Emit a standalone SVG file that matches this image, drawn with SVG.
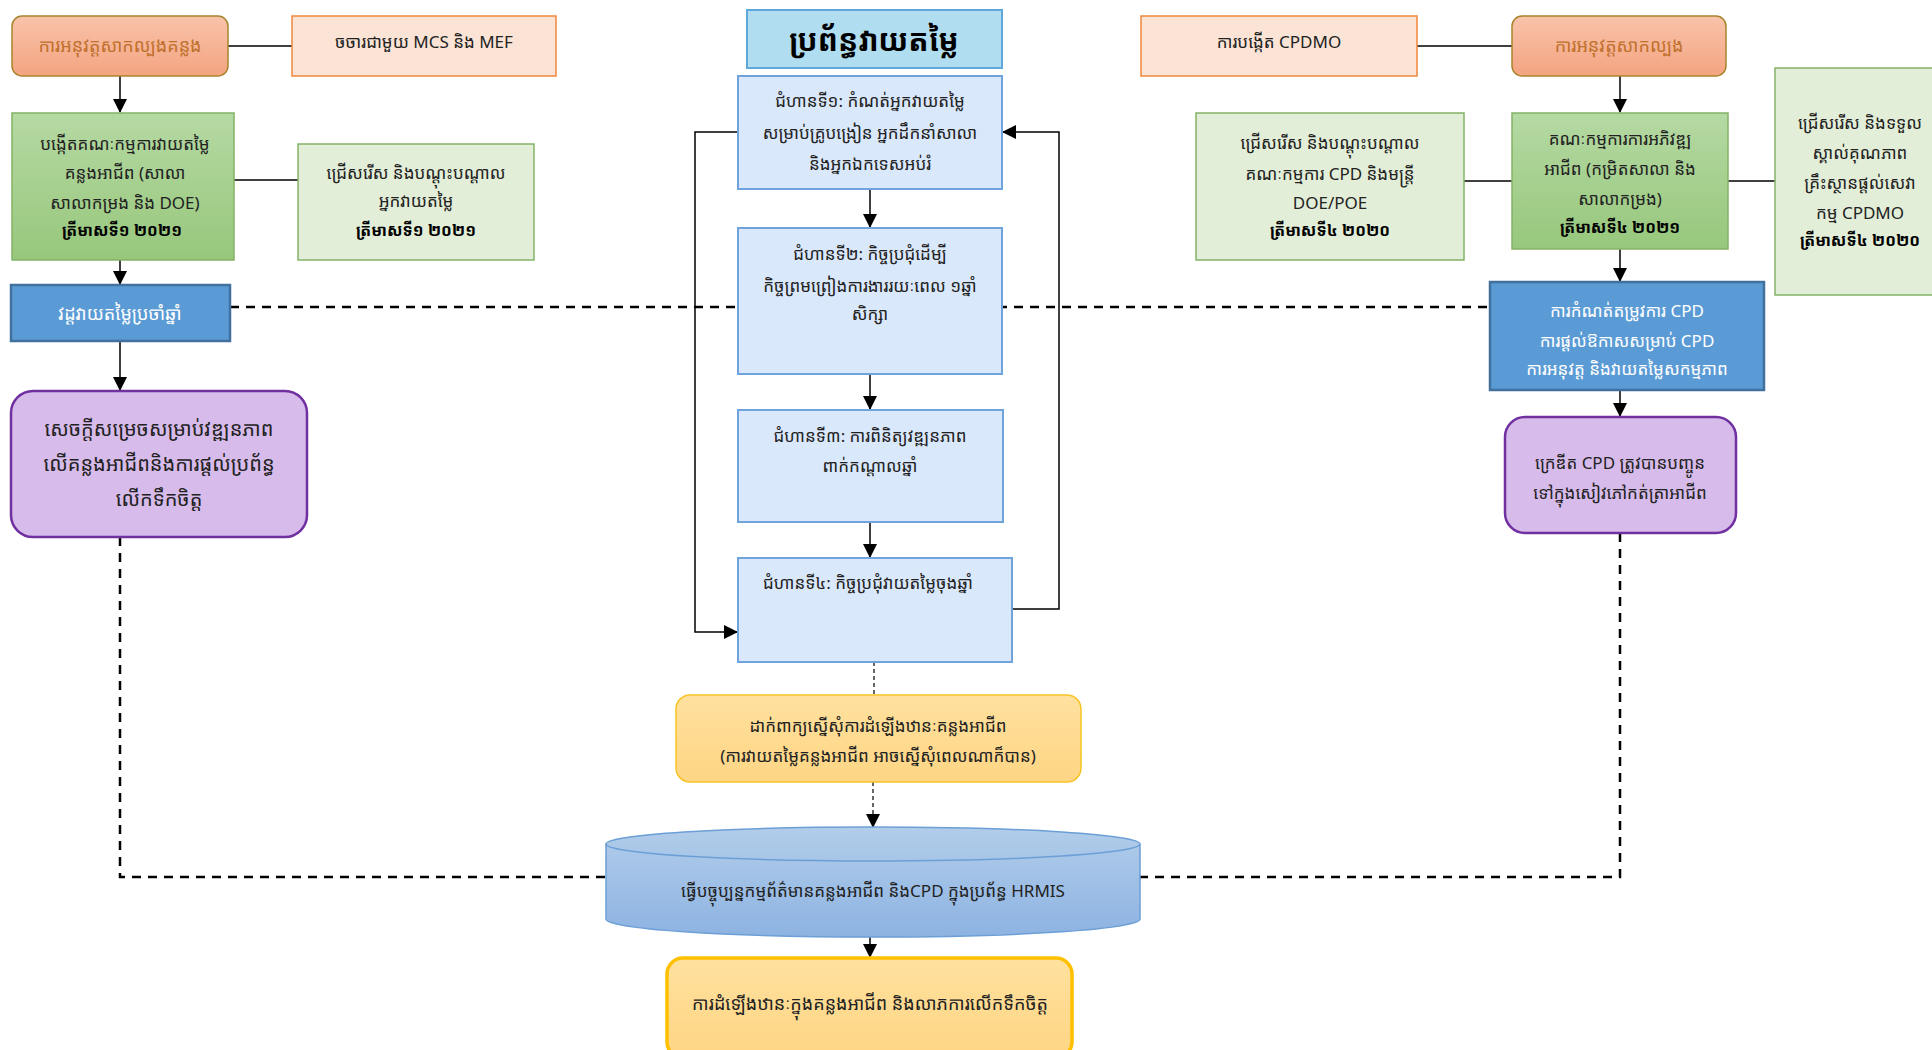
<svg xmlns="http://www.w3.org/2000/svg" width="1932" height="1050" viewBox="0 0 1932 1050">
<style>
text{font-family:"Noto Sans Khmer","Khmer OS","Khmer OS System","Noto Sans","Liberation Sans",sans-serif;font-size:17px;fill:#222;text-anchor:middle;dominant-baseline:central}
.b{font-weight:bold;fill:#000;font-size:16px}
.w{fill:#fff}
.org{fill:#c0702c;font-size:18px}
.peach{fill:#fbe4d6;stroke:#f0873a;stroke-width:1.5}
.lg{fill:#e2eed8;stroke:#82b366;stroke-width:1.5}
.g{fill:url(#gg);stroke:#82b366;stroke-width:1.5}
.o{fill:url(#og);stroke:#a8842c;stroke-width:1.5}
.bl{fill:#5b9bd5;stroke:#41719c;stroke-width:2.5}
.pu{fill:#d7bbea;stroke:#7030a0;stroke-width:2.5}
.st{fill:#dae8fc;stroke:#6fa3dc;stroke-width:2}
.ln{fill:none;stroke:#000;stroke-width:1.5}
.dl{fill:none;stroke:#000;stroke-width:2.5;stroke-dasharray:9 7}
.dt{fill:none;stroke:#000;stroke-width:1.2;stroke-dasharray:4 3}
.ar{marker-end:url(#ah)}
</style>
<defs>
<linearGradient id="og" x1="0" y1="0" x2="0" y2="1"><stop offset="0" stop-color="#f8c3ab"/><stop offset="1" stop-color="#f4a480"/></linearGradient>
<linearGradient id="gg" x1="0" y1="0" x2="0" y2="1"><stop offset="0" stop-color="#b5d9a3"/><stop offset="1" stop-color="#97c77c"/></linearGradient>
<linearGradient id="yg" x1="0" y1="0" x2="0" y2="1"><stop offset="0" stop-color="#ffe19e"/><stop offset="1" stop-color="#fed584"/></linearGradient>
<linearGradient id="cg" x1="0" y1="0" x2="0" y2="1"><stop offset="0" stop-color="#b2cdea"/><stop offset="1" stop-color="#8db3e2"/></linearGradient>
<marker id="ah" viewBox="0 0 14 14" refX="13" refY="7" markerWidth="14" markerHeight="14" markerUnits="userSpaceOnUse" orient="auto"><path d="M0,0 L14,7 L0,14 Z" fill="#000"/></marker>
</defs>

<g id="connectors">
<path class="dl" d="M230,307 H1490"/>
<path class="dl" d="M120,537 V877 H606"/>
<path class="dl" d="M1620,533 V877 H1140"/>
<path class="ln" d="M228,46 H292"/>
<path class="ln ar" d="M120,76 V112"/>
<path class="ln" d="M234,180 H298"/>
<path class="ln ar" d="M120,260 V284"/>
<path class="ln ar" d="M120,341 V390"/>
<path class="ln ar" d="M870,189 V227"/>
<path class="ln ar" d="M870,374 V409"/>
<path class="ln ar" d="M870,522 V557"/>
<path class="ln ar" d="M1012,609 H1059 V132 H1003"/>
<path class="ln ar" d="M738,132 H695 V632 H737"/>
<path class="dt" d="M874,662 V695"/>
<path class="dt ar" d="M873,782 V827"/>
<path class="ln ar" d="M870,937 V957"/>
<path class="ln" d="M1417,46 H1512"/>
<path class="ln ar" d="M1620,76 V112"/>
<path class="ln" d="M1464,181 H1512"/>
<path class="ln" d="M1728,181 H1775"/>
<path class="ln ar" d="M1620,249 V281"/>
<path class="ln ar" d="M1620,390 V416"/>
</g>

<g id="n-left-pilot"><rect class="o" x="12" y="16" width="216" height="60" rx="10"/><text class="org" x="120" y="45">ការអនុវត្តសាកល្បងគន្លង</text></g>
<g id="n-mcs"><rect class="peach" x="292" y="16" width="264" height="60"/><text x="424" y="41">ចចារជាមួយ MCS និង MEF</text></g>
<g id="n-committee"><rect class="g" x="12" y="113" width="222" height="147"/>
<text x="125" y="143">បង្កើតគណៈកម្មការវាយតម្លៃ</text><text x="125" y="172">គន្លងអាជីព (សាលា</text><text x="125" y="202">សាលាកម្រង និង DOE)</text><text class="b" x="122" y="230">ត្រីមាសទី១ ២០២១</text></g>
<g id="n-train-eval"><rect class="lg" x="298" y="144" width="236" height="116"/>
<text x="416" y="172">ជ្រើសរើស និងបណ្តុះបណ្តាល</text><text x="416" y="200">អ្នកវាយតម្លៃ</text><text class="b" x="416" y="230">ត្រីមាសទី១ ២០២១</text></g>
<g id="n-cycle"><rect class="bl" x="11" y="285" width="219" height="56"/><text class="w" x="120" y="313" style="font-size:18px">វដ្តវាយតម្លៃប្រចាំឆ្នាំ</text></g>
<g id="n-decision"><rect class="pu" x="11" y="391" width="296" height="146" rx="22"/>
<text x="159" y="428" style="font-size:20px">សេចក្តីសម្រេចសម្រាប់វឌ្ឍនភាព</text><text x="159" y="463" style="font-size:20px">លើគន្លងអាជីពនិងការផ្តល់ប្រព័ន្ធ</text><text x="159" y="498" style="font-size:20px">លើកទឹកចិត្ត</text></g>

<g id="n-title"><rect x="747" y="10" width="255" height="58" fill="#b1ddf0" stroke="#5fa8dc" stroke-width="2"/><text class="b" x="874" y="39" style="font-size:30px">ប្រព័ន្ធវាយតម្លៃ</text></g>
<g id="n-step1"><rect class="st" x="738" y="76" width="264" height="113"/>
<text x="870" y="100">ជំហានទី១: កំណត់អ្នកវាយតម្លៃ</text><text x="870" y="132">សម្រាប់គ្រូបង្រៀន អ្នកដឹកនាំសាលា</text><text x="870" y="163">និងអ្នកឯកទេសអប់រំ</text></g>
<g id="n-step2"><rect class="st" x="738" y="228" width="264" height="146"/>
<text x="870" y="253">ជំហានទី២: កិច្ចប្រជុំដើម្បី</text><text x="870" y="285">កិច្ចព្រមព្រៀងការងាររយៈពេល ១ឆ្នាំ</text><text x="870" y="313">សិក្សា</text></g>
<g id="n-step3"><rect class="st" x="738" y="410" width="265" height="112"/>
<text x="870" y="435">ជំហានទី៣: ការពិនិត្យវឌ្ឍនភាព</text><text x="870" y="465">ពាក់កណ្តាលឆ្នាំ</text></g>
<g id="n-step4"><rect class="st" x="738" y="558" width="274" height="104"/>
<text x="868" y="582">ជំហានទី៤: កិច្ចប្រជុំវាយតម្លៃចុងឆ្នាំ</text></g>
<g id="n-apply"><rect x="676" y="695" width="405" height="87" rx="14" fill="url(#yg)" stroke="#f7c325" stroke-width="1.5"/>
<text x="878" y="725">ដាក់ពាក្យស្នើសុំការដំឡើងឋានៈគន្លងអាជីព</text><text x="878" y="755">(ការវាយតម្លៃគន្លងអាជីព អាចស្នើសុំពេលណាក៏បាន)</text></g>
<g id="n-hrmis">
<path d="M606,844 A267,17 0 0 1 1140,844 V919 A267,18 0 0 1 606,919 Z" fill="url(#cg)" stroke="#6c9fd6" stroke-width="1.5"/>
<path d="M606,844 A267,17 0 0 0 1140,844" fill="none" stroke="#6c9fd6" stroke-width="1.5"/>
<text x="873" y="890">ធ្វើបច្ចុប្បន្នកម្មព័ត៌មានគន្លងអាជីព និងCPD ក្នុងប្រព័ន្ធ HRMIS</text></g>
<g id="n-promotion"><rect x="667" y="958" width="405" height="100" rx="16" fill="url(#yg)" stroke="#ffc000" stroke-width="3.5"/>
<text x="870" y="1003" style="font-size:18px">ការដំឡើងឋានៈក្នុងគន្លងអាជីព និងលាភការលើកទឹកចិត្ត</text></g>

<g id="n-cpdmo"><rect class="peach" x="1141" y="16" width="276" height="60"/><text x="1279" y="41">ការបង្កើត CPDMO</text></g>
<g id="n-right-pilot"><rect class="o" x="1512" y="16" width="214" height="60" rx="10"/><text class="org" x="1619" y="45">ការអនុវត្តសាកល្បង</text></g>
<g id="n-train-cpd"><rect class="lg" x="1196" y="113" width="268" height="147"/>
<text x="1330" y="142">ជ្រើសរើស និងបណ្តុះបណ្តាល</text><text x="1330" y="173">គណៈកម្មការ CPD និងមន្ត្រី</text><text x="1330" y="202">DOE/POE</text><text class="b" x="1330" y="230">ត្រីមាសទី៤ ២០២០</text></g>
<g id="n-cpd-committee"><rect class="g" x="1512" y="113" width="216" height="136"/>
<text x="1620" y="138">គណៈកម្មការការអភិវឌ្ឍ</text><text x="1620" y="168">អាជីព (កម្រិតសាលា និង</text><text x="1620" y="198">សាលាកម្រង)</text><text class="b" x="1620" y="227">ត្រីមាសទី៤ ២០២១</text></g>
<g id="n-accredit"><rect class="lg" x="1775" y="68" width="170" height="227"/>
<text x="1860" y="122">ជ្រើសរើស និងទទួល</text><text x="1860" y="152">ស្គាល់គុណភាព</text><text x="1860" y="182">គ្រឹះស្ថានផ្តល់សេវា</text><text x="1860" y="212">កម្ម CPDMO</text><text class="b" x="1860" y="240">ត្រីមាសទី៤ ២០២០</text></g>
<g id="n-cpd-needs"><rect class="bl" x="1490" y="282" width="274" height="108"/>
<text class="w" x="1627" y="310">ការកំណត់តម្រូវការ CPD</text><text class="w" x="1627" y="340">ការផ្តល់ឱកាសសម្រាប់ CPD</text><text class="w" x="1627" y="368">ការអនុវត្ត និងវាយតម្លៃសកម្មភាព</text></g>
<g id="n-credit"><rect class="pu" x="1505" y="417" width="231" height="116" rx="20"/>
<text x="1620" y="462">ក្រេឌីត CPD ត្រូវបានបញ្ចូន</text><text x="1620" y="492">ទៅក្នុងសៀវភៅកត់ត្រាអាជីព</text></g>
</svg>
